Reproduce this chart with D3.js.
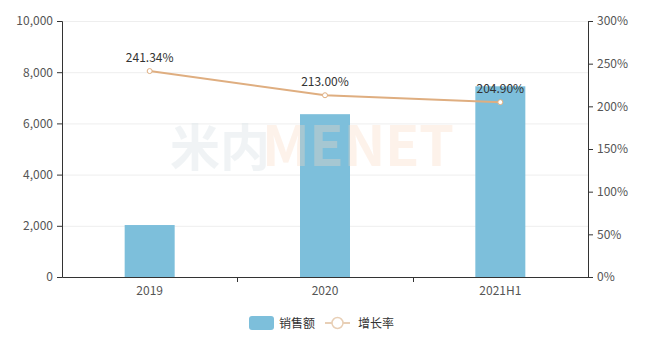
<!DOCTYPE html>
<html>
<head>
<meta charset="utf-8">
<script src="https://cdn.jsdelivr.net/npm/d3@7"></script>
<style>
  body { margin: 0; background: #fff; }
  text { font-family: "Noto Sans CJK SC", "Open Sans", sans-serif; }
</style>
</head>
<body>
<div id="chart"></div>
<script>
// data
let categories = ["2019", "2020", "2021H1"];
let sales = [2030, 6360, 7450];
let growth = [241.34, 213.00, 204.90];
let leftTicks = [0, 2000, 4000, 6000, 8000, 10000];
let rightTicks = [0, 50, 100, 150, 200, 250, 300];

let width = 652, height = 338;
let margin = {top: 21, right: 64, bottom: 61, left: 62};

let svg = d3.select("#chart")
    .append("svg")
    .attr("width", width)
    .attr("height", height);

let x = d3.scaleBand()
    .domain(categories)
    .range([margin.left, width - margin.right]);

let y = d3.scaleLinear()
    .domain([0, 10000])
    .range([height - margin.bottom, margin.top]);

let y2 = d3.scaleLinear()
    .domain([0, 300])
    .range([height - margin.bottom, margin.top]);

let barColor = "#7dbfdb",
    lineColor = "#dfae80";

// grid
svg.append("g")
    .selectAll("line")
    .data(leftTicks.slice(1))
    .enter().append("line")
    .attr("x1", margin.left)
    .attr("x2", width - margin.right)
    .attr("y1", d => y(d) + 0.5)
    .attr("y2", d => y(d) + 0.5)
    .attr("stroke", "#eeeeee");

// bars
let barW = 50;
svg.append("g")
    .selectAll("rect")
    .data(sales)
    .enter().append("rect")
    .attr("x", (d, i) => x(categories[i]) + x.bandwidth() / 2 - barW / 2)
    .attr("y", d => y(d))
    .attr("width", barW)
    .attr("height", d => y(0) - y(d))
    .attr("fill", barColor);

// watermark
let wm = svg.append("g").attr("opacity", 0.55);
wm.append("text")
    .attr("x", 170).attr("y", 166)
    .attr("font-size", 50).attr("font-weight", "bold")
    .attr("fill", "#dde6ea")
    .attr("fill-opacity", 0.8)
    .text("米内");
wm.append("text")
    .attr("x", 262).attr("y", 166)
    .attr("font-size", 56).attr("font-weight", "bold")
    .attr("fill", "#fbd9c0")
    .attr("fill-opacity", 0.6)
    .attr("textLength", 192)
    .text("MENET");

// axes
function styleAxis(g) {
    g.selectAll(".domain").attr("stroke", "#333");
    g.selectAll(".tick line").attr("stroke", "#333");
    g.selectAll(".tick text").attr("fill", "#555").attr("font-size", 12);
}

svg.append("g")
    .attr("transform", "translate(" + margin.left + ",0)")
    .call(d3.axisLeft(y).tickValues(leftTicks).tickSizeOuter(0).tickSize(5).tickPadding(4)
        .tickFormat(d3.format(",")))
    .call(styleAxis);

svg.append("g")
    .attr("transform", "translate(" + (width - margin.right) + ",0)")
    .call(d3.axisRight(y2).tickValues(rightTicks).tickSizeOuter(0).tickSize(5).tickPadding(4)
        .tickFormat(d => d + "%"))
    .call(styleAxis);

let xAxis = svg.append("g")
    .attr("transform", "translate(0," + (height - margin.bottom) + ")")
    .call(d3.axisBottom(x).tickSize(0).tickSizeOuter(0).tickPadding(9))
    .call(styleAxis);

// category boundary ticks
xAxis.append("g")
    .selectAll("line")
    .data(categories.slice(1))
    .enter().append("line")
    .attr("x1", d => Math.round(x(d)) + 0.5)
    .attr("x2", d => Math.round(x(d)) + 0.5)
    .attr("y1", 0)
    .attr("y2", 5)
    .attr("stroke", "#333");

// growth line
let cx = (d, i) => x(categories[i]) + x.bandwidth() / 2;
let line = d3.line()
    .x(cx)
    .y(d => y2(d));

svg.append("path")
    .datum(growth)
    .attr("d", line)
    .attr("fill", "none")
    .attr("stroke", lineColor)
    .attr("stroke-width", 2);

svg.append("g")
    .selectAll("circle")
    .data(growth)
    .enter().append("circle")
    .attr("cx", cx)
    .attr("cy", d => y2(d))
    .attr("r", 2.5)
    .attr("fill", "#fff")
    .attr("stroke", lineColor)
    .attr("stroke-width", 1);

svg.append("g")
    .selectAll("text")
    .data(growth)
    .enter().append("text")
    .attr("x", cx)
    .attr("y", d => y2(d) - 9)
    .attr("text-anchor", "middle")
    .attr("font-size", 12)
    .attr("fill", "#333")
    .text(d => d.toFixed(2) + "%");

// legend
let legend = svg.append("g").attr("transform", "translate(0,323)");
legend.append("rect")
    .attr("x", 249).attr("y", -7)
    .attr("width", 25).attr("height", 14)
    .attr("rx", 3)
    .attr("fill", barColor);
legend.append("text")
    .attr("x", 279).attr("y", 4.5)
    .attr("font-size", 12).attr("fill", "#333")
    .text("销售额");
legend.append("line")
    .attr("x1", 325).attr("x2", 350)
    .attr("stroke", "#e8cfb6").attr("stroke-width", 2);
legend.append("circle")
    .attr("cx", 337.5).attr("r", 5.5)
    .attr("fill", "#fff").attr("stroke", "#e8cfb6").attr("stroke-width", 1.5);
legend.append("text")
    .attr("x", 358).attr("y", 4.5)
    .attr("font-size", 12).attr("fill", "#333")
    .text("增长率");
</script>
</body>
</html>
